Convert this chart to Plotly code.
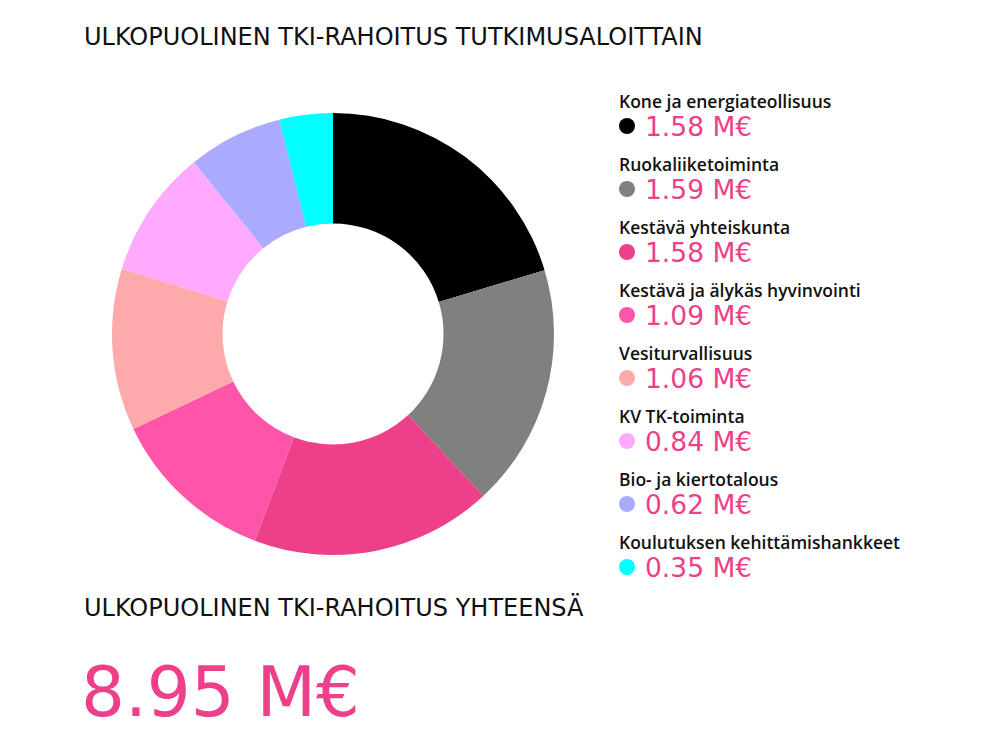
import plotly.graph_objects as go

# Research areas (clockwise from 12 o'clock)
areas = [
    "Kone ja energiateollisuus",
    "Ruokaliiketoiminta",
    "Kestävä yhteiskunta",
    "Kestävä ja älykäs hyvinvointi",
    "Vesiturvallisuus",
    "KV TK-toiminta",
    "Bio- ja kiertotalous",
    "Koulutuksen kehittämishankkeet",
]
# slice sizes as drawn in the donut (M€)
values = [1.82, 1.59, 1.58, 1.09, 1.06, 0.84, 0.62, 0.35]
# amounts printed in the legend
value_labels = ["1.58", "1.59", "1.58", "1.09", "1.06", "0.84", "0.62", "0.35"]
total_label = "8.95"

colors = ["#000000", "#808080", "#EE3F8A", "#FF55A8",
          "#FFAAAA", "#FFAAFF", "#AAAAFF", "#00FFFF"]
PINK = "#EE3F8A"
DISPLAY_FONT = "DejaVu Sans"
LABEL_FONT = "Open Sans"

# the page body has an 8px margin, so the figure is the window minus 16px
W, H = 1007 - 16, 743 - 16


def px(v):
    # window pixel -> figure pixel
    return v - 8


fig = go.Figure()

cx, cy, r = px(333), px(334), 221
fig.add_trace(go.Pie(
    labels=areas,
    values=values,
    hole=0.5,
    sort=False,
    direction="clockwise",
    rotation=0,
    marker=dict(colors=colors, line=dict(width=0)),
    textinfo="none",
    hoverinfo="label+value",
    showlegend=False,
    domain=dict(x=[(cx - r) / W, (cx + r) / W],
                y=[1 - (cy + r) / H, 1 - (cy - r) / H]),
))

# legend dots, one row per area, on a hidden axis (row index -> pixel rows)
rows = list(range(len(areas)))
fig.add_trace(go.Scatter(
    x=[0.5] * len(areas),
    y=rows,
    mode="markers",
    marker=dict(size=16, color=colors),
    hoverinfo="skip",
    showlegend=False,
    xaxis="x", yaxis="y",
))

row0, step = px(126), 63
annotations = []
for i, (name, lab) in enumerate(zip(areas, value_labels)):
    annotations.append(dict(
        x=px(617) / W, xref="paper", y=i - 0.39, yref="y",
        text=name, showarrow=False, xanchor="left", yanchor="middle",
        font=dict(family=LABEL_FONT, size=17.5, color="#111111", weight=600),
    ))
    annotations.append(dict(
        x=px(643) / W, xref="paper", y=i, yref="y",
        text=f"{lab} M€", showarrow=False, xanchor="left", yanchor="middle",
        font=dict(family=DISPLAY_FONT, size=26.5, color=PINK),
    ))

annotations += [
    dict(x=px(82) / W, xref="paper", y=1 - px(37) / H, yref="paper",
         text="ULKOPUOLINEN TKI-RAHOITUS TUTKIMUSALOITTAIN", showarrow=False,
         xanchor="left", yanchor="middle",
         font=dict(family=DISPLAY_FONT, size=24, color="#111111")),
    dict(x=px(82) / W, xref="paper", y=1 - px(607) / H, yref="paper",
         text="ULKOPUOLINEN TKI-RAHOITUS YHTEENSÄ", showarrow=False,
         xanchor="left", yanchor="middle",
         font=dict(family=DISPLAY_FONT, size=24, color="#111111")),
    dict(x=px(79) / W, xref="paper", y=1 - px(692) / H, yref="paper",
         text=f"{total_label} M€", showarrow=False,
         xanchor="left", yanchor="middle",
         font=dict(family=DISPLAY_FONT, size=69, color=PINK)),
]

fig.update_layout(
    width=W, height=H,
    margin=dict(l=0, r=0, t=0, b=0),
    paper_bgcolor="white",
    plot_bgcolor="white",
    xaxis=dict(domain=[px(619) / W, px(635) / W], range=[0, 1],
               visible=False, fixedrange=True),
    yaxis=dict(domain=[0, 1], range=[(H - row0) / step, -row0 / step],
               visible=False, fixedrange=True),
    annotations=annotations,
)

fig.write_html("out.html")
